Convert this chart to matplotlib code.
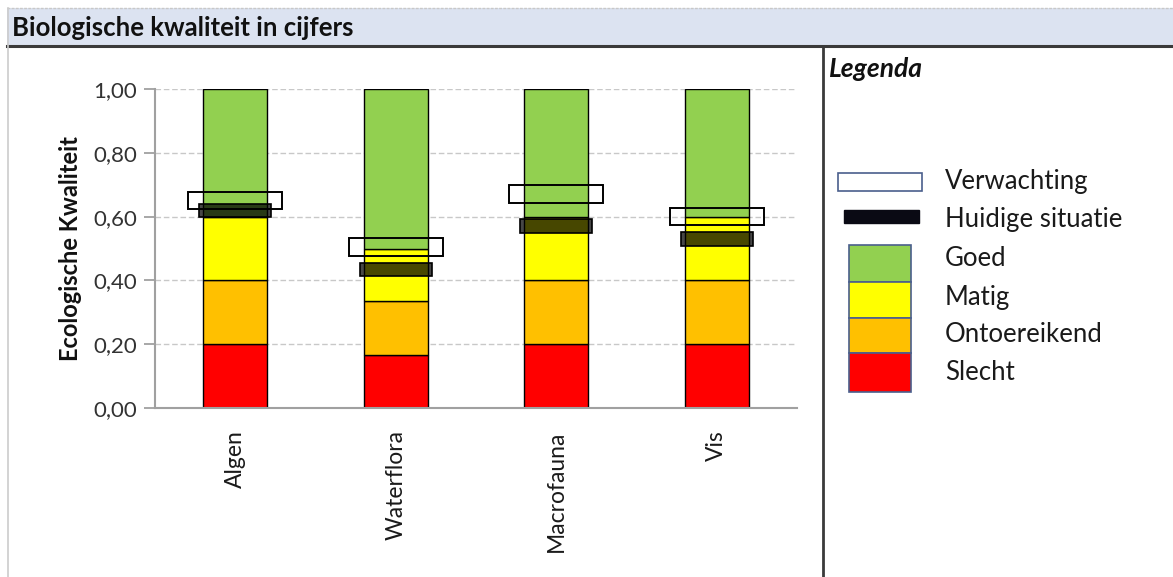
import matplotlib
matplotlib.use("Agg")
import matplotlib.pyplot as plt
from matplotlib.patches import Rectangle
import numpy as np

plt.rcParams['font.family'] = ['Lato', 'DejaVu Sans']

# Data
categories = ["Algen", "Waterflora", "Macrofauna", "Vis"]
slecht = [0.20, 0.165, 0.20, 0.20]
ontoereikend = [0.20, 0.17, 0.20, 0.20]
matig = [0.20, 0.165, 0.20, 0.20]
goed = [0.40, 0.50, 0.40, 0.40]
verwachting = [0.65, 0.505, 0.67, 0.60]
huidige_situatie = [0.62, 0.435, 0.57, 0.53]
yticks = [0.0, 0.2, 0.4, 0.6, 0.8, 1.0]
class_names = ["Goed", "Matig", "Ontoereikend", "Slecht"]
class_colors = ["#92d050", "#ffff00", "#ffc000", "#ff0000"]

W, H = 1173, 577
fig = plt.figure(figsize=(W / 100, H / 100), dpi=100)

# Background frame: title bar, borders, legend panel (pixel coordinates)
bg = fig.add_axes([0, 0, 1, 1], zorder=0)
bg.set_xlim(0, W)
bg.set_ylim(H, 0)
bg.axis("off")
bg.add_patch(Rectangle((7, 8), W - 7, 37, facecolor="#dce3f1", edgecolor="none"))
bg.plot([7, W], [8, 8], color="#c8c8c8", lw=1, ls=(0, (2, 1)))
bg.plot([7, W], [46, 46], color="#3a3a3a", lw=2.2)
bg.plot([7.5, 7.5], [8, H], color="#cccccc", lw=1.2)
bg.plot([822.5, 822.5], [47, H], color="#3a3a3a", lw=2)
bg.text(12, 28, "Biologische kwaliteit in cijfers", fontsize=18.5, fontweight="bold",
        va="center", ha="left", color="#111111")
bg.text(829, 69, "Legenda", fontsize=19, fontweight="bold", fontstyle="italic",
        va="center", ha="left", color="#111111")

# Legend swatches
legend_edge = "#4a5f8c"
bg.add_patch(Rectangle((838, 173), 84, 18, facecolor="white", edgecolor=legend_edge, lw=1.2))
bg.add_patch(Rectangle((844, 210), 75, 13, facecolor="#0a0a14", edgecolor="#0a0a14", lw=1))
sw_top = [245, 282, 318, 353]
sw_bot = [282, 318, 353, 392]
for name, col, t, b in zip(class_names, class_colors, sw_top, sw_bot):
    bg.add_patch(Rectangle((849, t), 62, b - t, facecolor=col, edgecolor=legend_edge, lw=1.2))
legend_labels = ["Verwachting", "Huidige situatie"] + class_names
legend_y = [182, 220, 258, 297, 335, 373]
for lab, y in zip(legend_labels, legend_y):
    bg.text(945, y, lab, fontsize=18.5, va="center", ha="left", color="#1a1a1a")

# Main chart
ax = fig.add_axes([155 / W, 1 - 408 / H, (797 - 155) / W, 319 / H], zorder=1)
ax.set_facecolor("none")
x = np.arange(len(categories))
bar_w = 0.4
bottom = np.zeros(len(categories))
for seg, col in zip([slecht, ontoereikend, matig, goed], class_colors[::-1]):
    ax.bar(x, seg, bottom=bottom, width=bar_w, color=col, edgecolor="black", lw=1, zorder=2)
    bottom = bottom + np.array(seg)

# Current situation: translucent dark bar
cur_h = 0.042
ax.bar(x, [cur_h] * len(x), bottom=np.array(huidige_situatie) - cur_h / 2, width=0.45,
       color=(0, 0, 0, 0.72), edgecolor="black", lw=1.2, zorder=3)
# Expected value: open box
exp_h = 0.055
ax.bar(x, [exp_h] * len(x), bottom=np.array(verwachting) - exp_h / 2, width=0.585,
       fill=False, edgecolor="black", lw=1.4, zorder=4)

ax.set_xlim(-0.5, len(categories) - 0.5)
ax.set_ylim(0, 1.0)
ax.set_yticks(yticks)
ax.set_yticklabels([f"{v:.2f}".replace(".", ",") for v in yticks], fontsize=16, color="#333333")
ax.set_xticks(x)
ax.set_xticklabels(categories, rotation=90, fontsize=16.5, color="#1a1a1a")
ax.tick_params(axis="x", length=0, pad=16)
ax.tick_params(axis="y", length=8, color="#a0a0a0", width=1.3, pad=5)
for s in ["top", "right"]:
    ax.spines[s].set_visible(False)
for s in ["left", "bottom"]:
    ax.spines[s].set_color("#a0a0a0")
    ax.spines[s].set_linewidth(1.5)
ax.yaxis.grid(True, color="#c8c8c8", ls=(0, (4, 2)), lw=1, zorder=0)
ax.set_axisbelow(True)
ax.set_ylabel("Ecologische Kwaliteit", fontsize=17, fontweight="bold", labelpad=8, color="#111111")

fig.savefig("out.png", dpi=100)
